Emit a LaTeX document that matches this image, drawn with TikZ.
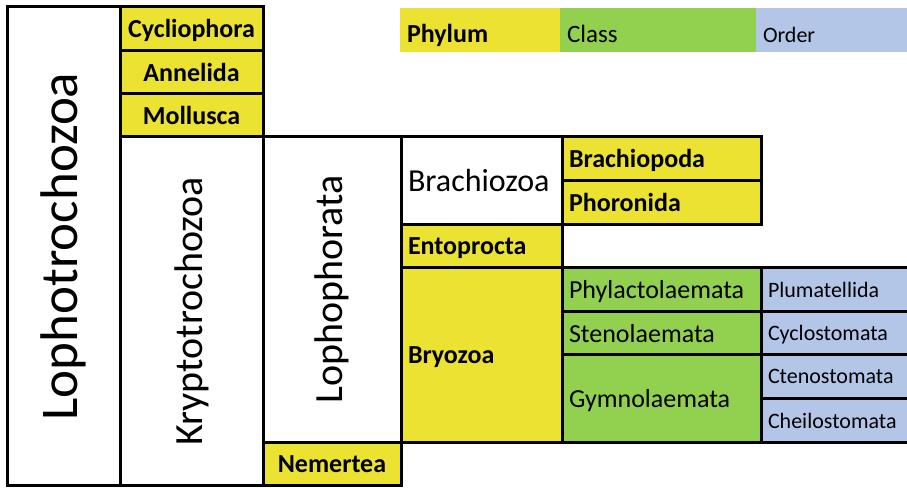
\documentclass[tikz,border=0pt]{standalone}
\usepackage{fontspec}
\setmainfont{Carlito}
\usetikzlibrary{positioning}
\definecolor{PhylumYellow}{HTML}{EBE232}
\definecolor{ClassGreen}{HTML}{92D050}
\definecolor{OrderBlue}{HTML}{B4C6E7}
\tikzset{
    % Table cells, borders meet edge to edge
    cellbox/.style={
        rectangle,
        draw=black,
        line width=3pt,
        outer sep=0pt,
        inner sep=0pt,
        anchor=north west
    },
    cladebox/.style={
        cellbox,
        fill=white
    },
    phylumbox/.style={
        cellbox,
        fill=PhylumYellow,
        text depth=0pt,
        font=\fontsize{26}{30}\selectfont\bfseries
    },
    classbox/.style={
        cellbox,
        fill=ClassGreen,
        text depth=0pt,
        font=\fontsize{26}{30}\selectfont
    },
    orderbox/.style={
        cellbox,
        fill=OrderBlue,
        text depth=0pt,
        font=\fontsize{22}{26}\selectfont
    },
    legendbox/.style={
        rectangle,
        draw=none,
        outer sep=0pt,
        inner ysep=0pt,
        anchor=north west,
        minimum height=44pt,
        text height=26pt,
        text depth=0pt
    },
    lefttext/.style={
        inner xsep=7pt,
        align=left,
        text width=#1
    }
}

\begin{document}
\begin{tikzpicture}[x=1pt, y=-1pt]
    \useasboundingbox (0,0) rectangle (907,487);

    % Lophotrochozoa
    \node[cladebox, minimum width=113pt, minimum height=478.8pt] (lophotrochozoa) at (7,7)
        {\rotatebox{90}{\fontsize{53}{60}\selectfont Lophotrochozoa}};

    % Phyla outside Kryptotrochozoa
    \node[phylumbox, minimum width=143pt, minimum height=43.33pt] (cycliophora) at (lophotrochozoa.north east) {Cycliophora};
    \node[phylumbox, minimum width=143pt, minimum height=43.33pt, below=0pt of cycliophora] (annelida) {Annelida};
    \node[phylumbox, minimum width=143pt, minimum height=43.33pt, below=0pt of annelida] (mollusca) {Mollusca};

    % Kryptotrochozoa
    \node[cladebox, minimum width=143pt, minimum height=348.8pt, below=0pt of mollusca] (kryptotrochozoa)
        {\rotatebox{90}{\fontsize{40}{48}\selectfont Kryptotrochozoa}};

    % Lophophorata and Nemertea
    \node[cladebox, minimum width=138pt, minimum height=305.2pt] (lophophorata) at (kryptotrochozoa.north east)
        {\rotatebox{90}{\fontsize{40}{48}\selectfont Lophophorata}};
    \node[phylumbox, minimum width=138pt, minimum height=43.6pt, below=0pt of lophophorata] (nemertea) {Nemertea};

    % Brachiozoa
    \node[cladebox, lefttext=147pt, minimum height=87.2pt, text depth=0pt, font=\fontsize{32}{36}\selectfont] (brachiozoa) at (lophophorata.north east) {Brachiozoa};
    \node[phylumbox, lefttext=185pt, minimum height=43.6pt] (brachiopoda) at (brachiozoa.north east) {Brachiopoda};
    \node[phylumbox, lefttext=185pt, minimum height=43.6pt, below=0pt of brachiopoda] (phoronida) {Phoronida};

    % Entoprocta and Bryozoa
    \node[phylumbox, lefttext=147pt, minimum height=43.6pt, below=0pt of brachiozoa] (entoprocta) {Entoprocta};
    \node[phylumbox, lefttext=147pt, minimum height=174.4pt, below=0pt of entoprocta] (bryozoa) {Bryozoa};

    % Classes
    \node[classbox, lefttext=185pt, minimum height=43.6pt] (phylactolaemata) at (bryozoa.north east) {Phylactolaemata};
    \node[classbox, lefttext=185pt, minimum height=43.6pt, below=0pt of phylactolaemata] (stenolaemata) {Stenolaemata};
    \node[classbox, lefttext=185pt, minimum height=87.2pt, below=0pt of stenolaemata] (gymnolaemata) {Gymnolaemata};

    % Orders
    \node[orderbox, lefttext=134pt, minimum height=43.6pt] (plumatellida) at (phylactolaemata.north east) {Plumatellida};
    \node[orderbox, lefttext=134pt, minimum height=43.6pt, below=0pt of plumatellida] (cyclostomata) {Cyclostomata};
    \node[orderbox, lefttext=134pt, minimum height=43.6pt, below=0pt of cyclostomata] (ctenostomata) {Ctenostomata};
    \node[orderbox, lefttext=134pt, minimum height=43.6pt, below=0pt of ctenostomata] (cheilostomata) {Cheilostomata};

    % Legend
    \node[legendbox, fill=PhylumYellow, lefttext=146pt, font=\fontsize{26}{30}\selectfont\bfseries] (legphylum) at (400,8) {Phylum};
    \node[legendbox, fill=ClassGreen, lefttext=182pt, font=\fontsize{25}{30}\selectfont, right=0pt of legphylum] (legclass) {Class};
    \node[legendbox, fill=OrderBlue, lefttext=137pt, font=\fontsize{22}{26}\selectfont, right=0pt of legclass] (legorder) {Order};
\end{tikzpicture}
\end{document}
